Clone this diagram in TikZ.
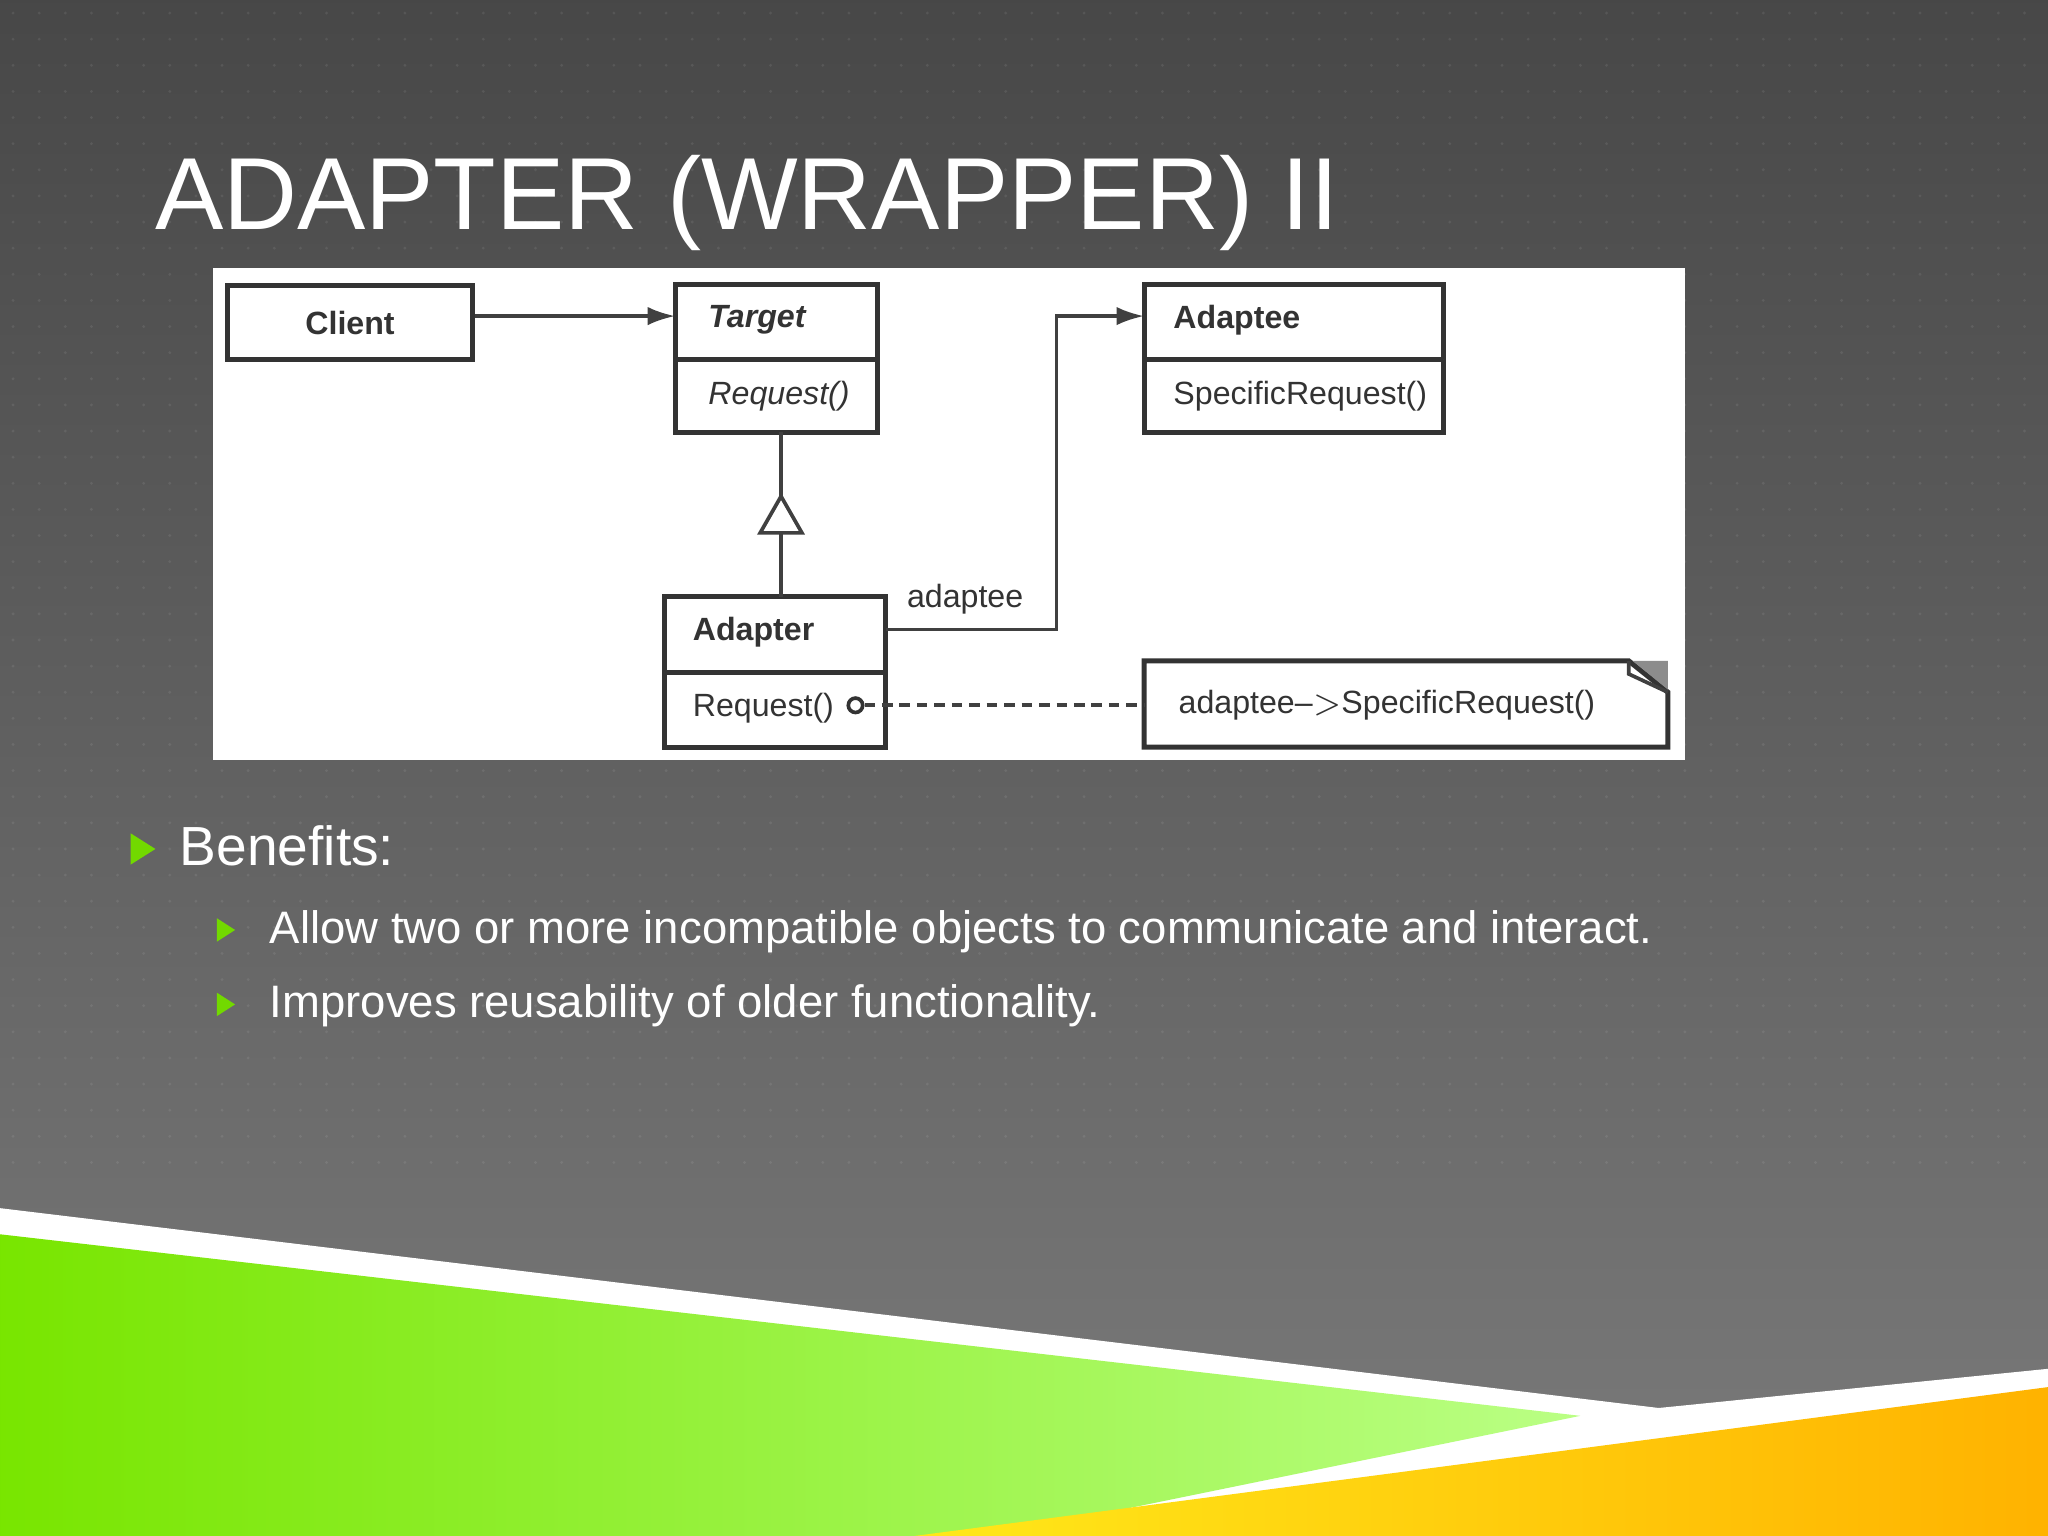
\documentclass[tikz,border=0pt]{standalone}
\usepackage{fontspec}
\setmainfont{Liberation Sans}
\usetikzlibrary{arrows.meta}
\begin{document}
\begin{tikzpicture}[x=0.01cm,y=-0.01cm,
  cls/.style={draw=black!80,line width=1.1pt,fill=white},
  lbl/.style={font=\fontsize{7}{8}\selectfont,text=black!80,anchor=west},
  conn/.style={draw=black!75,line width=0.8pt},
  bul/.style={fill=lime!70!green!85!black}]
\useasboundingbox (0,0) rectangle (1568,1176);
\shade[top color=black!72,bottom color=black!52] (0,0) rectangle (1568,1176);
\foreach \x in {10,30,...,1560}{\foreach \y in {10,30,...,900}{\fill[white,opacity=0.08] (\x,\y) circle (1.2);}}
% bottom stripes
\fill[white] (0,925) -- (1270,1078) -- (1568,1048) -- (1568,1176) -- (0,1176) -- cycle;
\shade[left color=lime!70!green!90!black, right color=lime!35!white!80!green] (0,945) -- (1210,1084) -- (760,1176) -- (0,1176) -- cycle;
\shade[left color=yellow!80!orange!90!white, right color=orange!60!yellow] (700,1176) -- (1568,1062) -- (1568,1176) -- cycle;
% title
\node[anchor=base west,text=white,font=\fontsize{22.3}{26}\selectfont,inner sep=0] (title) at (118,176) {ADAPTER (WRAPPER) II};
% panel
\fill[white] (163,205) rectangle (1290,582);
\node[cls,minimum width=1.87cm,minimum height=0.57cm,inner sep=0,font=\bfseries\fontsize{7}{8}\selectfont] (client) at (268,247) {\textcolor{black!80}{Client}};
\draw[cls] (517,218) rectangle (672,331); \draw[cls] (517,275) -- (672,275);
\node[lbl,font=\bfseries\itshape\fontsize{7}{8}\selectfont] (target) at (530,245) {Target};
\node[lbl,font=\itshape\fontsize{7}{8}\selectfont] (treq) at (530,303) {Request()};
\coordinate (tl) at (517,242); \coordinate (tb) at (598,331);
\draw[cls] (876,218) rectangle (1105,331); \draw[cls] (876,275) -- (1105,275);
\node[lbl,font=\bfseries\fontsize{7}{8}\selectfont] (adaptee) at (886,245) {Adaptee};
\node[lbl] (sreq) at (886,303) {SpecificRequest()};
\coordinate (al) at (876,242);
\draw[cls] (509,457) rectangle (678,572); \draw[cls] (509,515) -- (678,515);
\node[lbl,font=\bfseries\fontsize{7}{8}\selectfont] (adapter) at (518,484) {Adapter};
\node[lbl] (areq) at (518,542) {Request()};
\coordinate (ar) at (678,482); \coordinate (at) at (598,457);
% note
\draw[cls] (876,506) -- (1247,506) -- (1277,530) -- (1277,572) -- (876,572) -- cycle;
\fill[black!45] (1250,506) -- (1277,506) -- (1277,528) -- cycle;
\draw[conn] (1247,506) -- (1247,516) -- (1277,530);
\node[lbl] (note) at (890,540) {adaptee--$>$SpecificRequest()};
\coordinate (nl) at (876,540);
% connectors
\draw[conn,-{Latex[length=6pt,width=4pt]}] (client.east |- tl) -- (tl);
\draw[conn] (tb) -- (598,380);
\draw[conn,fill=white] (598,380) -- (614,408) -- (582,408) -- cycle;
\draw[conn] (598,408) -- (at);
\draw[conn,-{Latex[length=6pt,width=4pt]}] (ar) -- (809,482) -- (809,242) -- (al);
\node[lbl] (adlbl) at (682,459) {adaptee};
\node[draw=black!80,circle,line width=0.8pt,minimum size=0.11cm,inner sep=0] (circ) at (655,540) {};
\draw[conn,dash pattern=on 2.3pt off 1.5pt] (circ.east) -- (nl);
% bullets
\fill[bul] (100,638) -- (119,650) -- (100,662) -- cycle;
\node[anchor=base west,text=white,font=\fontsize{12}{14}\selectfont,inner sep=0] (b1) at (137,663) {Benefits:};
\fill[bul] (166,703) -- (180,712) -- (166,721) -- cycle;
\node[anchor=base west,text=white,font=\fontsize{9.9}{11}\selectfont,inner sep=0] (b2) at (206,722) {Allow two or more incompatible objects to communicate and interact.};
\fill[bul] (166,760) -- (180,769) -- (166,778) -- cycle;
\node[anchor=base west,text=white,font=\fontsize{9.9}{11}\selectfont,inner sep=0] (b3) at (206,779) {Improves reusability of older functionality.};
\end{tikzpicture}
\end{document}
